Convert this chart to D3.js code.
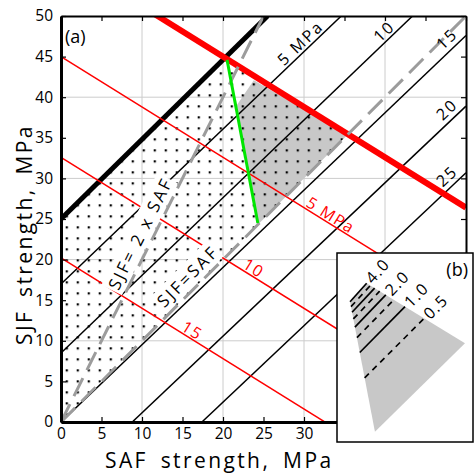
<!DOCTYPE html>
<html>
<head>
<meta charset="utf-8">
<script src="https://cdn.jsdelivr.net/npm/d3@7"></script>
<style>
  body { margin: 0; background: #fff; }
  svg text { font-family: "Open Sans", sans-serif; fill: #000; }
</style>
</head>
<body>
<svg id="chart" width="475" height="476"></svg>
<script>
// ---- data (MPa) ----
const xTicks = [0, 5, 10, 15, 20, 25, 30, 35, 40, 45, 50];
const yTicks = [0, 5, 10, 15, 20, 25, 30, 35, 40, 45, 50];
const gridValues = [10, 20, 30, 40];

// black lines: start / end points
const blackLabels = ["", "5 MPa", "10", "15", "20", "25"];
const blackStart = [[0, 25], [0, 17], [0, 8.5], [0, 0], [8.8, 0], [17.4, 0]];
const blackEnd = [[25.5, 50], [34.6, 50], [43.4, 50], [50, 47.6], [50, 38.9], [50, 30.7]];

// red lines: y = intercept + slope * x
const redSlope = -0.62;
const redIntercepts = [57.4, 45, 32.6, 20.2];
const redLabels = ["", "5 MPa", "10", "15"];

// SJF = k x SAF reference lines
const ratioValues = [2, 1];
const ratioLabels = ["SJF= 2 x SAF", "SJF=SAF"];

const greenLine = [[20.5, 44.6], [24.3, 24.5]];
const shadedZone = [[23.8, 42.1], [35.4, 35.4], [23.4, 23.4], [24.3, 24.5], [21.7, 39.0]];
const dottedZone = [[0, 0], [0, 25], [20.3, 44.9], [35.4, 35.4]];

// inset (b): fan corners in inset units, contour values
const fanCorners = [[0.096, 0.742], [0.218, 0.840], [0.941, 0.522], [0.279, 0.054]];
const fanValues = [4, 3.5, 3, 2.5, 2, 1.5, 1, 0.5];
const fanLabels = { 4: "4.0", 2: "2.0", 1: "1.0", 0.5: "0.5" };

// ---- layout ----
const plot = { left: 61, right: 466, top: 16, bottom: 422 };
const box = { left: 337, right: 473, top: 253, bottom: 442 };  // inset frame
const redLabelX = [null, 32.8, 23.3, 15.7];
const ratioLabelX = [11.25, 16.8];

const svg = d3.select("#chart");
const x = d3.scaleLinear().domain([0, 50]).range([plot.left, plot.right]);
const y = d3.scaleLinear().domain([0, 50]).range([plot.bottom, plot.top]);
const line = d3.line().x(d => x(d[0])).y(d => y(d[1]));

const defs = svg.append("defs");
defs.append("clipPath").attr("id", "plotClip")
  .append("rect")
  .attr("x", plot.left).attr("y", plot.top)
  .attr("width", plot.right - plot.left).attr("height", plot.bottom - plot.top);

const dots = defs.append("pattern")
  .attr("id", "dots")
  .attr("patternUnits", "userSpaceOnUse")
  .attr("x", 65.7).attr("y", 402.3)
  .attr("width", 11).attr("height", 11);
dots.append("rect").attr("width", 2.2).attr("height", 2.2).attr("fill", "#000");

const body = svg.append("g").attr("clip-path", "url(#plotClip)");

// grid
body.selectAll("line.gridx").data(gridValues).join("line")
  .attr("class", "gridx")
  .attr("x1", d => x(d)).attr("x2", d => x(d))
  .attr("y1", plot.top).attr("y2", plot.bottom)
  .attr("stroke", "#cccccc").attr("stroke-width", 1);
body.selectAll("line.gridy").data(gridValues).join("line")
  .attr("class", "gridy")
  .attr("y1", d => y(d)).attr("y2", d => y(d))
  .attr("x1", plot.left).attr("x2", plot.right)
  .attr("stroke", "#cccccc").attr("stroke-width", 1);

// shaded + dotted areas
body.append("path").datum(shadedZone)
  .attr("d", d => line(d) + "Z")
  .attr("fill", "#c8c8c8");
body.append("path").datum(dottedZone)
  .attr("d", d => line(d) + "Z")
  .attr("fill", "url(#dots)");

// black lines
const blackData = blackStart.map((s, i) => ({ s, e: blackEnd[i], label: blackLabels[i], i }));
body.selectAll("line.black").data(blackData).join("line")
  .attr("class", "black")
  .attr("x1", d => x(d.s[0])).attr("y1", d => y(d.s[1]))
  .attr("x2", d => x(d.e[0])).attr("y2", d => y(d.e[1]))
  .attr("stroke", "#000")
  .attr("stroke-width", d => d.i === 0 ? 5 : 1.5);

// red lines
const redData = redIntercepts.map((b, i) => ({ b, label: redLabels[i], lx: redLabelX[i], i }));
body.selectAll("line.red").data(redData).join("line")
  .attr("class", "red")
  .attr("x1", x(0)).attr("y1", d => y(d.b))
  .attr("x2", x(50)).attr("y2", d => y(d.b + redSlope * 50))
  .attr("stroke", "#ff0000")
  .attr("stroke-width", d => d.i === 0 ? 6 : 1.5);

// labels with white background for the ratio lines
const ratioData = ratioValues.map((k, i) => ({ k, label: ratioLabels[i], lx: ratioLabelX[i] }));
const ratioLab = svg.append("g").selectAll("g").data(ratioData).join("g")
  .attr("transform", d => {
    const ang = Math.atan2(y(d.k) - y(0), x(1) - x(0)) * 180 / Math.PI;
    return `translate(${x(d.lx)},${y(d.k * d.lx)}) rotate(${ang})`;
  });
ratioLab.append("text")
  .attr("y", -7)
  .attr("text-anchor", "middle")
  .style("font-size", "17px")
  .style("letter-spacing", "2.5px")
  .text(d => d.label);
ratioLab.each(function () {
  const g = d3.select(this);
  const bb = g.select("text").node().getBBox();
  g.insert("rect", "text")
    .attr("x", bb.x - 2).attr("y", bb.y)
    .attr("width", bb.width + 2).attr("height", bb.height)
    .attr("fill", "#fff");
});

// gray dashed ratio lines
const over = svg.append("g").attr("clip-path", "url(#plotClip)");
over.selectAll("line.ratio").data(ratioData).join("line")
  .attr("class", "ratio")
  .attr("x1", x(0)).attr("y1", y(0))
  .attr("x2", d => x(Math.min(50, 50 / d.k))).attr("y2", d => y(Math.min(50, 50 * d.k)))
  .attr("stroke", "#9c9c9c").attr("stroke-width", 3)
  .attr("stroke-dasharray", "20,9");

// green line
over.append("path").datum(greenLine)
  .attr("d", line)
  .attr("stroke", "#00e600").attr("stroke-width", 3).attr("fill", "none");

// black line labels
const labels = svg.append("g");
labels.selectAll("text.bl").data(blackData.filter(d => d.label)).join("text")
  .attr("class", "bl")
  .attr("transform", d => {
    const x1 = x(d.s[0]), y1 = y(d.s[1]), x2 = x(d.e[0]), y2 = y(d.e[1]);
    const len = Math.hypot(x2 - x1, y2 - y1);
    const ux = (x2 - x1) / len, uy = (y2 - y1) / len;
    const back = d.e[1] === 50 ? 20 : 5;
    const ang = Math.atan2(uy, ux) * 180 / Math.PI;
    return `translate(${x2 - ux * back},${y2 - uy * back}) rotate(${ang})`;
  })
  .attr("y", d => d.e[1] === 50 ? -3 : -5)
  .attr("text-anchor", "end")
  .style("font-size", "16px")
  .style("letter-spacing", "2px")
  .text(d => d.label);

// red labels
labels.selectAll("text.rl").data(redData.filter(d => d.label)).join("text")
  .attr("class", "rl")
  .attr("transform", d => {
    const ang = Math.atan2(y(redSlope) - y(0), x(1) - x(0)) * 180 / Math.PI;
    return `translate(${x(d.lx)},${y(d.b + redSlope * d.lx)}) rotate(${ang})`;
  })
  .attr("y", -2)
  .attr("text-anchor", "middle")
  .style("font-size", "16px")
  .style("letter-spacing", "1.5px")
  .style("fill", "#ff0000")
  .text(d => d.label);

// axes (x labels hidden where the inset covers them)
const axB = svg.append("g").attr("transform", `translate(0,${plot.bottom})`)
  .call(d3.axisBottom(x).tickValues(xTicks).tickSizeInner(-5).tickSizeOuter(0).tickPadding(6)
    .tickFormat(d => x(d) + 10 < box.left ? d : ""));
const axL = svg.append("g").attr("transform", `translate(${plot.left},0)`)
  .call(d3.axisLeft(y).tickValues(yTicks).tickSizeInner(-5).tickSizeOuter(0).tickPadding(8));
const axT = svg.append("g").attr("transform", `translate(0,${plot.top})`)
  .call(d3.axisTop(x).tickValues(xTicks).tickSizeInner(-5).tickSizeOuter(0).tickFormat(""));
const axR = svg.append("g").attr("transform", `translate(${plot.right},0)`)
  .call(d3.axisRight(y).tickValues(yTicks).tickSizeInner(-5).tickSizeOuter(0).tickFormat(""));
[axB, axL, axT, axR].forEach(a => {
  a.selectAll(".tick line").attr("stroke", "#000").attr("stroke-width", 1.2);
  a.selectAll(".tick text").style("font-size", "15.5px").style("font-family", "'Open Sans', sans-serif").attr("fill", "#000");
});
axB.select(".domain").attr("stroke", "#000").attr("stroke-width", 3);
axL.select(".domain").attr("stroke", "#000").attr("stroke-width", 3);
axT.select(".domain").attr("stroke", "#000").attr("stroke-width", 2);
axR.select(".domain").attr("stroke", "#000").attr("stroke-width", 2);

// axis titles
svg.append("text")
  .attr("x", 105).attr("y", 468)
  .style("font-size", "21px")
  .style("letter-spacing", "2.4px")
  .style("word-spacing", "5px")
  .text("SAF strength, MPa");
svg.append("text")
  .attr("transform", "translate(32,345) rotate(-90)")
  .style("font-size", "21px")
  .style("letter-spacing", "2.4px")
  .style("word-spacing", "5px")
  .text("SJF strength, MPa");

svg.append("text").attr("x", 65).attr("y", 43).style("font-size", "18px").text("(a)");

// ---- inset (b) ----
const ix = d3.scaleLinear().domain([0, 1]).range([box.left, box.right]);
const iy = d3.scaleLinear().domain([0, 1]).range([box.bottom, box.top]);
const inset = svg.append("g");
inset.append("rect")
  .attr("x", box.left).attr("y", box.top)
  .attr("width", box.right - box.left).attr("height", box.bottom - box.top)
  .attr("fill", "#fff").attr("stroke", "#000").attr("stroke-width", 1.5);
inset.append("path").datum(fanCorners)
  .attr("d", d => d3.line().x(p => ix(p[0])).y(p => iy(p[1]))(d) + "Z")
  .attr("fill", "#c8c8c8");

const [P1, P2, P3, P4] = fanCorners;
const lerp = (a, b, t) => [a[0] + (b[0] - a[0]) * t, a[1] + (b[1] - a[1]) * t];
const fanPos = v => 0.39 - 0.195 * Math.log2(v);
const fanData = fanValues.map(v => {
  const t = fanPos(v);
  return { v, a: lerp(P1, P4, t), b: lerp(P2, P3, t), solid: Number.isInteger(v) };
});
inset.selectAll("line.fan").data(fanData).join("line")
  .attr("class", "fan")
  .attr("x1", d => ix(d.a[0])).attr("y1", d => iy(d.a[1]))
  .attr("x2", d => ix(d.b[0])).attr("y2", d => iy(d.b[1]))
  .attr("stroke", "#000").attr("stroke-width", 1.7)
  .attr("stroke-dasharray", d => d.solid ? null : "6,5");
inset.selectAll("text.fan").data(fanData.filter(d => fanLabels[d.v])).join("text")
  .attr("class", "fan")
  .attr("transform", d => {
    const dx = ix(d.b[0]) - ix(d.a[0]), dy = iy(d.b[1]) - iy(d.a[1]);
    const ang = Math.atan2(dy, dx) * 180 / Math.PI;
    return `translate(${ix(d.b[0])},${iy(d.b[1])}) rotate(${ang})`;
  })
  .attr("x", 3).attr("dy", "0.35em")
  .style("font-size", "16px")
  .style("letter-spacing", "1.5px")
  .text(d => fanLabels[d.v]);
inset.append("text")
  .attr("x", 468).attr("y", 276)
  .attr("text-anchor", "end")
  .style("font-size", "18px")
  .text("(b)");
</script>
</body>
</html>
